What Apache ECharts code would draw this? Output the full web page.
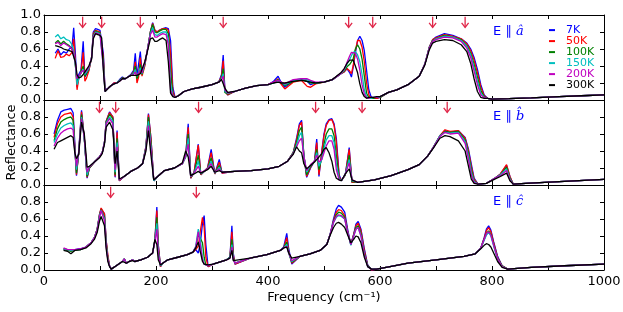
<!DOCTYPE html>
<html>
<head>
<meta charset="utf-8">
<script src="https://cdn.jsdelivr.net/npm/echarts@6/dist/echarts.min.js"></script>
<style>
  html, body { margin: 0; padding: 0; background: #fff; }
  #chart { width: 623px; height: 312px; }
</style>
</head>
<body>
<div id="chart"></div>
<script>
// temperatures (legend) and colours
var temps = ['7K', '50K', '100K', '150K', '200K', '300K'];
var tempColors = ['#0000ff', '#ff0000', '#008000', '#00bfbf', '#bf00bf', '#000000'];

// ---- E || a ----
var freqA = [20,25,30,35,40,45,50,53,56,59,62,66,70,73,76,80,85,88,92,96,100,103,106,109,
  115,120,125,130,135,140,145,150,155,160,163,166,169,172,175,180,
  185,190,194,198,202,206,212,218,222,226,230,234,240,
  250,265,280,300,312,317,320,323,328,340,360,380,400,
  410,418,424,430,445,460,470,476,485,500,515,530,
  536,541,546,549,552,556,560,564,568,572,576,580,584,588,594,600,
  615,630,650,670,680,688,694,700,715,730,745,755,762,768,774,780,786,792,800,
  830,870,920,960,1000];
var a7K = [.55,.60,.53,.57,.55,.60,.62,.85,.55,.15,.30,.35,.69,.27,.28,.35,.50,.80,.84,.83,.82,.80,.55,.12,
  .14,.17,.20,.20,.24,.27,.25,.27,.30,.35,.55,.28,.30,.57,.32,.42,
  .60,.80,.91,.82,.80,.82,.84,.85,.84,.70,.15,.03,.05,
  .10,.13,.15,.18,.21,.30,.53,.12,.06,.10,.14,.17,.18,
  .22,.28,.20,.15,.22,.24,.22,.18,.20,.21,.24,.31,
  .33,.37,.32,.27,.38,.55,.70,.75,.70,.58,.35,.12,.04,.02,.02,.03,
  .09,.12,.18,.28,.42,.62,.71,.74,.78,.76,.72,.67,.60,.50,.36,.18,.06,.02,.01,
  .015,.025,.04,.05,.06];
var a50K = [.49,.58,.50,.51,.54,.52,.56,.72,.45,.12,.25,.32,.56,.22,.26,.34,.50,.78,.82,.81,.80,.79,.50,.11,
  .14,.17,.20,.20,.23,.26,.25,.27,.29,.33,.45,.20,.27,.50,.28,.40,
  .60,.80,.90,.82,.80,.82,.84,.84,.82,.55,.10,.03,.05,
  .10,.13,.15,.18,.21,.28,.46,.10,.06,.10,.14,.17,.18,
  .21,.25,.18,.13,.21,.23,.16,.15,.19,.21,.24,.31,
  .33,.37,.34,.31,.40,.58,.70,.70,.62,.45,.20,.06,.02,.02,.02,.03,
  .09,.12,.18,.28,.42,.62,.71,.73,.77,.75,.72,.66,.58,.47,.32,.15,.05,.02,.01,
  .015,.025,.04,.05,.06];
var a100K = [.67,.70,.66,.69,.66,.64,.60,.55,.40,.22,.27,.33,.40,.28,.30,.36,.50,.76,.81,.80,.79,.77,.45,.10,
  .14,.17,.19,.20,.23,.26,.25,.27,.29,.32,.40,.25,.30,.42,.30,.42,
  .60,.80,.89,.80,.79,.81,.83,.83,.78,.35,.06,.03,.05,
  .10,.13,.15,.18,.21,.26,.37,.09,.07,.10,.14,.17,.18,
  .20,.24,.20,.17,.22,.24,.22,.20,.20,.21,.24,.31,
  .34,.39,.42,.43,.48,.60,.65,.60,.48,.28,.08,.03,.02,.02,.03,.03,
  .09,.12,.18,.28,.42,.62,.70,.72,.76,.74,.71,.64,.55,.42,.27,.11,.04,.02,.01,
  .015,.025,.04,.05,.06];
var a150K = [.74,.77,.72,.74,.71,.70,.65,.58,.42,.18,.25,.32,.36,.30,.32,.37,.50,.75,.80,.79,.78,.76,.40,.10,
  .14,.17,.19,.20,.23,.25,.25,.27,.29,.31,.36,.28,.30,.38,.31,.43,
  .60,.78,.85,.77,.76,.78,.80,.80,.72,.20,.05,.03,.05,
  .10,.13,.15,.18,.21,.25,.31,.10,.08,.10,.14,.17,.18,
  .20,.23,.21,.18,.23,.25,.24,.22,.20,.21,.24,.31,
  .35,.42,.48,.52,.56,.57,.53,.45,.30,.12,.04,.02,.02,.03,.03,.04,
  .09,.12,.18,.28,.42,.61,.69,.72,.75,.74,.70,.63,.53,.38,.22,.08,.03,.02,.01,
  .015,.025,.04,.05,.06];
var a200K = [.66,.68,.64,.67,.65,.63,.60,.55,.43,.25,.28,.32,.35,.32,.34,.38,.50,.74,.79,.78,.77,.75,.38,.10,
  .14,.17,.19,.20,.22,.25,.25,.27,.29,.30,.33,.29,.30,.35,.32,.44,
  .60,.77,.82,.74,.74,.76,.78,.77,.65,.12,.05,.03,.05,
  .10,.13,.15,.18,.21,.24,.28,.12,.08,.10,.14,.17,.18,
  .21,.23,.21,.19,.24,.25,.25,.23,.21,.21,.24,.31,
  .36,.44,.52,.56,.58,.55,.48,.35,.18,.07,.03,.02,.03,.03,.03,.04,
  .09,.12,.18,.28,.42,.61,.69,.71,.74,.73,.69,.61,.50,.34,.18,.06,.03,.02,.01,
  .015,.025,.04,.05,.06];
var a300K = [.64,.63,.62,.60,.59,.58,.57,.56,.45,.30,.26,.27,.30,.33,.36,.40,.48,.72,.78,.77,.76,.73,.35,.10,
  .14,.17,.19,.20,.22,.25,.25,.27,.29,.29,.30,.29,.30,.31,.33,.45,
  .58,.72,.73,.69,.69,.71,.73,.70,.45,.08,.04,.03,.05,
  .10,.13,.15,.18,.21,.24,.26,.14,.09,.10,.14,.17,.18,
  .20,.21,.20,.20,.22,.23,.22,.21,.20,.21,.24,.32,
  .37,.43,.47,.49,.47,.40,.32,.19,.09,.04,.02,.03,.03,.03,.04,.04,
  .09,.12,.18,.28,.41,.59,.67,.69,.71,.70,.65,.57,.43,.25,.10,.03,.02,.02,.01,
  .015,.025,.04,.05,.06];
var arrowsA = [69, 103, 172, 320, 544, 587, 694, 752];

// ---- E || b ----
var freqB = [18,24,30,36,42,48,52,55,58,62,67,72,77,81,
  90,99,104,108,111,117,123,127,130.5,134.5,
  143,155,167,176,182,186.5,191,196,
  203,215,233,247,253,257.5,262,268,275.5,280,292,298.5,305,313,318,
  340,370,400,420,435,445,451,456,
  460,464,469,476,483,487,491,496,500,504,509,514,518,522,527,531,
  538,545,550,560,590,
  620,650,670,685,695,707,716,725,740,752,758,763,768,775,790,805,815,826,832,838,
  860,920,1000];
var b7K = [.60,.76,.86,.88,.89,.90,.85,.50,.11,.40,.88,.55,.08,.20,
  .27,.33,.38,.50,.75,.86,.80,.09,.64,.05,
  .10,.16,.20,.25,.45,.84,.55,.05,
  .10,.17,.20,.25,.35,.72,.08,.15,.48,.12,.20,.42,.13,.30,.14,
  .16,.17,.19,.22,.28,.38,.55,.72,
  .76,.35,.09,.20,.28,.54,.10,.40,.60,.72,.77,.78,.72,.55,.12,.05,
  .12,.44,.03,.03,.06,
  .11,.18,.24,.34,.44,.58,.64,.62,.64,.56,.42,.25,.08,.01,.02,.08,.13,.23,.10,.01,
  .02,.04,.065];
var b50K = [.56,.72,.80,.83,.84,.85,.80,.45,.12,.38,.86,.55,.09,.20,
  .27,.33,.38,.50,.75,.85,.80,.10,.62,.05,
  .10,.16,.20,.25,.45,.83,.55,.05,
  .10,.17,.20,.25,.34,.68,.08,.15,.47,.12,.20,.38,.13,.27,.14,
  .16,.17,.19,.22,.28,.38,.53,.70,
  .74,.35,.10,.21,.28,.50,.12,.38,.58,.70,.76,.77,.70,.50,.10,.05,
  .12,.42,.03,.03,.06,
  .11,.18,.24,.34,.44,.58,.65,.63,.64,.55,.40,.22,.07,.01,.02,.08,.13,.24,.10,.01,
  .02,.04,.065];
var b100K = [.52,.66,.74,.77,.79,.80,.76,.42,.14,.38,.83,.54,.10,.20,
  .27,.33,.38,.50,.74,.83,.78,.12,.55,.06,
  .10,.16,.20,.25,.44,.80,.50,.05,
  .10,.17,.20,.25,.33,.60,.09,.14,.35,.13,.19,.32,.14,.23,.15,
  .16,.17,.19,.22,.28,.38,.50,.64,
  .68,.35,.12,.22,.28,.42,.18,.32,.48,.60,.66,.66,.58,.35,.08,.05,
  .12,.35,.04,.03,.06,
  .11,.18,.24,.34,.44,.58,.63,.62,.63,.53,.37,.18,.05,.01,.02,.08,.12,.21,.08,.01,
  .02,.04,.065];
var b150K = [.50,.60,.67,.70,.72,.73,.70,.40,.18,.38,.80,.54,.12,.21,
  .27,.33,.38,.50,.73,.80,.75,.15,.50,.06,
  .10,.16,.20,.25,.43,.75,.45,.05,
  .10,.17,.20,.25,.33,.55,.10,.14,.28,.13,.19,.28,.14,.21,.15,
  .16,.17,.19,.22,.28,.37,.47,.58,
  .62,.35,.15,.23,.28,.38,.22,.30,.43,.53,.58,.58,.50,.25,.07,.05,
  .13,.30,.05,.03,.06,
  .11,.18,.24,.34,.44,.58,.62,.61,.62,.51,.34,.15,.04,.01,.02,.08,.12,.19,.07,.01,
  .02,.04,.065];
var b200K = [.46,.55,.61,.64,.66,.67,.65,.40,.22,.38,.78,.55,.15,.21,
  .27,.33,.38,.50,.72,.78,.72,.18,.45,.06,
  .10,.16,.20,.25,.42,.70,.42,.06,
  .10,.17,.20,.25,.34,.48,.10,.14,.22,.14,.19,.25,.15,.19,.15,
  .16,.17,.19,.22,.28,.37,.45,.52,
  .55,.34,.17,.24,.28,.35,.27,.30,.38,.46,.52,.52,.42,.18,.06,.05,
  .13,.26,.06,.03,.06,
  .11,.18,.24,.34,.44,.57,.62,.60,.61,.49,.30,.12,.03,.01,.02,.08,.11,.17,.06,.01,
  .02,.04,.065];
var b300K = [.42,.50,.52,.54,.56,.58,.56,.38,.31,.36,.74,.60,.21,.22,
  .27,.32,.37,.48,.68,.74,.65,.25,.40,.07,
  .10,.16,.20,.25,.40,.64,.35,.06,
  .10,.17,.20,.26,.40,.33,.11,.13,.16,.14,.18,.22,.15,.17,.15,
  .16,.17,.19,.22,.28,.36,.45,.40,
  .38,.25,.19,.23,.27,.30,.33,.37,.42,.44,.38,.28,.15,.08,.06,.05,
  .13,.19,.06,.03,.06,
  .11,.18,.24,.34,.43,.55,.58,.57,.52,.40,.22,.07,.02,.01,.02,.07,.10,.14,.05,.01,
  .02,.04,.065];
var arrowsB = [99, 128, 276, 485, 568, 720];

// ---- E || c ----
var freqC = [35,42,48,55,65,75,84,90,95,99,102,105,108,111,114,117,120,
  129,140,143.5,147,152,158,162,173,185,194,198,201.5,204,208,212,
  221,239,256,266,271,275.5,279,283,286,289,293,
  302,326,332,335.5,338,341,368,398,422,428,433.5,437,442.5,
  457,475,493,505,511,517,522,526,531,537,543,548,553,557,561,566,572,578,585,594,
  618,650,700,750,770,780,786,790,794,798,803,810,818,828,870,930,1000];
var c7K = [.25,.23,.24,.24,.25,.27,.32,.38,.48,.65,.72,.72,.66,.35,.15,.05,.01,
  .05,.10,.13,.08,.10,.12,.10,.12,.15,.20,.35,.74,.30,.04,.08,
  .12,.15,.18,.21,.24,.20,.30,.55,.64,.30,.04,
  .07,.12,.15,.52,.20,.07,.14,.18,.23,.27,.43,.25,.07,
  .16,.19,.23,.30,.42,.60,.72,.76,.74,.68,.45,.30,.42,.54,.57,.48,.25,.06,.00,.01,
  .04,.08,.12,.16,.19,.26,.38,.48,.52,.47,.33,.16,.05,.01,.03,.05,.07];
var c50K = [.25,.24,.23,.24,.24,.27,.32,.38,.48,.65,.73,.73,.66,.35,.18,.05,.01,
  .05,.10,.13,.08,.10,.12,.10,.12,.15,.20,.35,.70,.30,.04,.08,
  .12,.15,.18,.21,.24,.28,.45,.62,.50,.15,.04,
  .07,.12,.15,.45,.18,.07,.14,.18,.23,.26,.38,.22,.08,
  .16,.19,.23,.30,.42,.58,.68,.71,.70,.64,.43,.30,.42,.52,.55,.46,.23,.05,.00,.01,
  .04,.08,.12,.16,.19,.26,.37,.46,.50,.45,.32,.15,.05,.01,.03,.05,.07];
var c100K = [.24,.23,.22,.23,.24,.27,.32,.38,.48,.64,.71,.70,.62,.32,.14,.05,.01,
  .05,.10,.13,.08,.10,.12,.10,.12,.15,.20,.35,.62,.25,.05,.08,
  .12,.15,.18,.21,.26,.42,.40,.32,.15,.06,.05,
  .07,.12,.15,.36,.15,.08,.14,.18,.23,.26,.33,.20,.09,
  .16,.19,.23,.30,.42,.57,.65,.68,.67,.62,.42,.30,.41,.50,.52,.43,.20,.05,.01,.01,
  .04,.08,.12,.16,.19,.26,.36,.43,.46,.42,.30,.14,.05,.01,.03,.05,.07];
var c150K = [.25,.24,.23,.24,.24,.27,.32,.38,.47,.63,.70,.69,.60,.30,.13,.05,.01,
  .05,.10,.13,.08,.10,.12,.10,.12,.15,.20,.34,.55,.22,.05,.08,
  .12,.15,.18,.21,.28,.48,.36,.15,.07,.05,.05,
  .07,.12,.15,.30,.13,.08,.14,.18,.23,.26,.30,.20,.10,
  .16,.19,.23,.30,.42,.56,.62,.64,.63,.60,.42,.29,.40,.48,.50,.40,.18,.04,.01,.01,
  .04,.08,.12,.16,.19,.26,.35,.41,.44,.40,.28,.13,.04,.01,.03,.05,.07];
var c200K = [.26,.24,.24,.24,.25,.27,.32,.38,.47,.62,.70,.69,.58,.28,.12,.05,.01,
  .05,.10,.13,.08,.10,.12,.10,.12,.15,.20,.33,.48,.20,.06,.08,
  .12,.15,.18,.21,.27,.45,.30,.12,.07,.05,.05,
  .07,.12,.14,.27,.12,.08,.14,.18,.23,.26,.28,.20,.11,
  .16,.19,.23,.30,.42,.56,.63,.65,.64,.60,.42,.30,.40,.48,.50,.40,.18,.04,.01,.01,
  .04,.08,.12,.16,.19,.26,.36,.43,.45,.41,.29,.13,.04,.01,.03,.05,.07];
var c300K = [.23,.22,.19,.23,.24,.26,.31,.36,.44,.57,.63,.62,.52,.25,.10,.04,.01,
  .05,.10,.12,.08,.10,.11,.10,.12,.15,.20,.36,.30,.12,.06,.08,
  .12,.15,.18,.21,.26,.33,.22,.10,.07,.06,.06,
  .07,.12,.14,.23,.11,.09,.14,.18,.23,.26,.27,.20,.14,
  .16,.19,.23,.30,.41,.50,.55,.56,.54,.50,.40,.32,.36,.40,.39,.32,.15,.04,.01,.01,
  .04,.08,.12,.16,.19,.25,.29,.31,.30,.27,.20,.10,.03,.01,.03,.05,.07];
var arrowsC = [119, 272];

var xTicks = [0, 200, 400, 600, 800, 1000];

var panels = [
  { freq: freqA, vals: [a7K, a50K, a100K, a150K, a200K, a300K], arrows: arrowsA, hat: 'â' },
  { freq: freqB, vals: [b7K, b50K, b100K, b150K, b200K, b300K], arrows: arrowsB, hat: 'b\u0302' },
  { freq: freqC, vals: [c7K, c50K, c100K, c150K, c200K, c300K], arrows: arrowsC, hat: 'ĉ' }
];

var font = 'DejaVu Sans';
var tops = [15, 100, 185];
var grids = [], xAxes = [], yAxes = [], series = [], graphics = [];

panels.forEach(function (p, i) {
  var last = i === panels.length - 1;
  // outerBoundsMode none: keep every panel at the same fixed box
  grids.push({ left: 44, right: 19, top: tops[i], height: 85, containLabel: false, outerBoundsMode: 'none' });

  // bottom + top x axes (top only draws the frame and ticks)
  ['bottom', 'top'].forEach(function (pos) {
    var withLabels = last && pos === 'bottom';
    xAxes.push({
      type: 'value', gridIndex: i, position: pos, min: 0, max: 1000, interval: 100,
      axisLine: { show: true, onZero: false, lineStyle: { color: '#000', width: 1 } },
      axisTick: { show: true, inside: true, length: 4, lineStyle: { color: '#000' } },
      splitLine: { show: false },
      axisLabel: {
        show: withLabels, margin: 5, fontFamily: font, fontSize: 13, color: '#000',
        showMinLabel: true, showMaxLabel: true,
        formatter: function (v) { return xTicks.indexOf(v) >= 0 ? String(v) : ''; }
      },
      name: withLabels ? 'Frequency (cm\u207b\u00b9)' : '',
      nameLocation: 'middle', nameGap: 21,
      nameTextStyle: { fontFamily: font, fontSize: 13, color: '#000' }
    });
  });

  ['left', 'right'].forEach(function (pos) {
    var withLabels = pos === 'left';
    yAxes.push({
      type: 'value', gridIndex: i, position: pos, min: 0, max: 1, interval: 0.2,
      axisLine: { show: true, onZero: false, lineStyle: { color: '#000', width: 1 } },
      axisTick: { show: true, inside: true, length: 4, lineStyle: { color: '#000' } },
      splitLine: { show: false },
      axisLabel: {
        show: withLabels, margin: 3, fontFamily: font, fontSize: 13, color: '#000',
        formatter: function (v) { return (i > 0 && v > 0.99) ? '' : v.toFixed(1); }
      },
      name: (withLabels && i === 1) ? 'Reflectance' : '',
      nameLocation: 'middle', nameGap: 26, nameMoveOverlap: false,
      nameTextStyle: { fontFamily: font, fontSize: 13, color: '#000' }
    });
  });

  p.vals.forEach(function (vals, k) {
    series.push({
      name: temps[k], type: 'line', xAxisIndex: i * 2, yAxisIndex: i * 2,
      data: p.freq.map(function (f, j) { return [f, vals[j]]; }),
      showSymbol: false, symbol: 'none', animation: false,
      lineStyle: { color: tempColors[k], width: 1.3 },
      itemStyle: { color: tempColors[k] }
    });
  });

  // red marker arrows
  series.push({
    type: 'custom', xAxisIndex: i * 2, yAxisIndex: i * 2, animation: false, silent: true,
    data: p.arrows.map(function (f) { return [f, 0.9]; }),
    encode: { x: 0, y: 1 },
    renderItem: function (params, api) {
      var a = api.coord([api.value(0), 0.98]);
      var b = api.coord([api.value(0), 0.855]);
      var st = { stroke: '#e0284a', lineWidth: 1.3, fill: null };
      return {
        type: 'group', children: [
          { type: 'line', shape: { x1: a[0], y1: a[1], x2: b[0], y2: b[1] }, style: st },
          { type: 'polyline', shape: { points: [[b[0] - 3.5, b[1] - 4.5], [b[0], b[1]], [b[0] + 3.5, b[1] - 4.5]] }, style: st }
        ]
      };
    }
  });

  graphics.push({
    type: 'text', left: 493, top: tops[i] + 10,
    style: {
      text: '{e|E \u2225 }{h|' + p.hat + '}',
      rich: {
        e: { fontFamily: font, fontSize: 13, fill: '#0000ff' },
        h: { fontFamily: 'DejaVu Serif', fontStyle: 'italic', fontSize: 13, fill: '#0000ff' }
      }
    }
  });
});

var chart = echarts.init(document.getElementById('chart'), null, { renderer: 'canvas' });
chart.setOption({
  backgroundColor: '#fff',
  animation: false,
  grid: grids,
  xAxis: xAxes,
  yAxis: yAxes,
  legend: {
    orient: 'vertical', left: 549, top: 24.6, padding: 0,
    icon: 'rect', itemWidth: 6, itemHeight: 2, itemGap: 0,
    textStyle: { fontFamily: font, fontSize: 11, lineHeight: 10.7, padding: [0, 0, 0, 6] },
    data: temps.map(function (t, k) { return { name: t, textStyle: { color: tempColors[k] } }; })
  },
  graphic: graphics,
  series: series
});
</script>
</body>
</html>
